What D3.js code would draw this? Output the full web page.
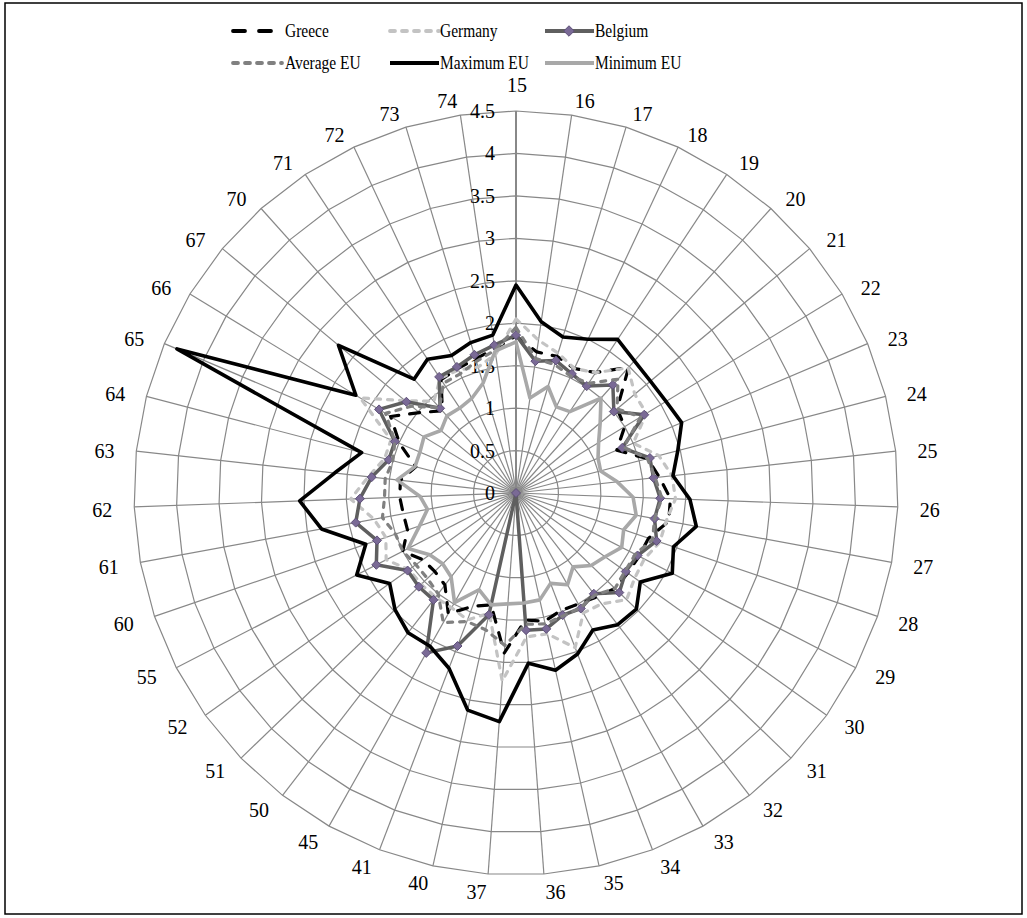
<!DOCTYPE html>
<html lang="en">
<head>
<meta charset="utf-8">
<title>Radar chart</title>
<script src="https://d3js.org/d3.v7.min.js"></script>
<style>
  body { margin: 0; background: #fff; }
  text { font-family: "Liberation Serif", "Times New Roman", serif; fill: #000; }
</style>
</head>
<body>
<script>
// categories round the radar, clockwise from the top
var categories = ["15","16","17","18","19","20","21","22","23","24","25","26","27","28","29",
  "30","31","32","33","34","35","36","37","40","41","45","50","51","52","55","60","61","62",
  "63","64","65","66","67","70","71","72","73","74"];

var greece    = [1.85,1.68,1.68,1.62,1.70,1.99,1.55,1.50,1.29,1.60,1.70,1.82,1.83,1.65,1.63,1.62,1.62,1.55,1.50,1.48,1.55,1.50,1.89,1.35,1.43,1.63,1.37,1.33,1.35,1.50,1.35,1.35,1.37,1.37,1.22,1.49,1.73,1.48,1.30,1.60,1.62,1.65,1.72];
var germany   = [2.05,1.82,1.72,1.62,1.70,1.98,1.82,1.80,1.50,1.74,1.85,1.88,1.80,1.79,1.70,1.72,1.81,1.65,1.62,1.95,1.70,1.70,2.22,1.45,1.60,1.55,1.55,1.55,1.55,1.72,1.62,1.70,1.95,1.75,1.60,1.60,2.15,1.70,1.45,1.62,1.60,1.55,1.65];
var belgium   = [1.86,1.57,1.63,1.55,1.51,1.71,1.50,1.77,1.36,1.63,1.63,1.70,1.66,1.75,1.61,1.59,1.69,1.50,1.56,1.54,1.64,1.62,0,1.47,1.93,2.16,1.59,1.59,1.57,1.85,1.73,1.92,1.84,1.71,1.55,1.55,1.89,1.68,1.34,1.64,1.64,1.70,1.76];
var averageEU = [1.95,1.60,1.58,1.52,1.55,1.80,1.55,1.72,1.38,1.60,1.65,1.72,1.66,1.70,1.58,1.58,1.62,1.52,1.55,1.55,1.58,1.55,1.80,1.65,1.62,1.75,1.50,1.45,1.45,1.50,1.50,1.60,1.55,1.55,1.50,1.55,1.80,1.60,1.35,1.55,1.55,1.62,1.70];
var maximumEU = [2.45,2.04,1.92,2.00,2.17,2.09,2.06,2.07,2.12,1.97,1.86,2.05,2.16,1.96,2.07,1.80,1.97,1.96,1.85,2.03,2.14,2.01,2.70,2.62,2.21,2.07,2.08,1.98,1.83,2.11,1.87,2.33,2.55,2.15,1.88,4.34,2.21,2.72,1.80,1.89,1.79,1.85,1.88];
var minimumEU = [1.78,1.13,1.31,1.12,1.15,1.50,1.29,1.14,1.05,1.03,1.20,1.38,1.44,1.34,1.40,1.29,1.23,1.10,1.24,1.14,1.29,1.30,1.31,1.35,1.22,1.48,1.25,1.20,1.25,1.43,1.20,1.06,1.13,1.41,1.23,1.23,1.27,1.15,1.22,1.20,1.23,1.35,1.69];

var radialTicks = [0,0.5,1,1.5,2,2.5,3,3.5,4,4.5];

var w = 1027, h = 918;
var cx = 516, cy = 493;

var svg = d3.select("body").append("svg")
    .attr("width", w)
    .attr("height", h);

// outer frame
svg.append("rect")
    .attr("x", 5).attr("y", 3)
    .attr("width", 1017).attr("height", 911)
    .attr("fill", "none")
    .attr("stroke", "#000")
    .attr("stroke-width", 1.5);

var r = d3.scaleLinear().domain([0, 4.5]).range([0, 382]);
var angle = d3.scaleLinear().domain([0, categories.length]).range([0, 2 * Math.PI]);

var g = svg.append("g").attr("transform", "translate(" + cx + "," + cy + ")");

// grid rings (polygons like Excel)
var ring = d3.lineRadial()
    .angle(function(d, i) { return angle(i); })
    .radius(function(d) { return r(d); })
    .curve(d3.curveLinearClosed);

radialTicks.slice(1).forEach(function(t) {
  g.append("path")
    .attr("d", ring(categories.map(function() { return t; })))
    .attr("fill", "none")
    .attr("stroke", "#888")
    .attr("stroke-width", 1.2);
});

// spokes
g.selectAll("line.spoke")
  .data(categories)
  .enter().append("line")
    .attr("class", "spoke")
    .attr("x1", 0).attr("y1", 0)
    .attr("x2", function(d, i) { return r(4.5) * Math.sin(angle(i)); })
    .attr("y2", function(d, i) { return -r(4.5) * Math.cos(angle(i)); })
    .attr("stroke", "#888")
    .attr("stroke-width", function(d, i) { return i === 0 ? 2 : 1.2; });

// value labels along the first spoke
g.selectAll("text.tick")
  .data(radialTicks)
  .enter().append("text")
    .attr("class", "tick")
    .attr("x", -21)
    .attr("y", function(d) { return -r(d); })
    .attr("dy", "0.35em")
    .attr("text-anchor", "end")
    .style("font-size", "20px")
    .text(function(d) { return d; });

// category labels, pushed off the spoke ends the way Excel does
g.selectAll("text.cat")
  .data(categories)
  .enter().append("text")
    .attr("class", "cat")
    .attr("x", function(d, i) {
      var s = Math.sin(angle(i));
      return i === 0 ? 1 : 404 * s + (s > 0 ? 10 : -10);
    })
    .attr("y", function(d, i) { return i === 0 ? -408 : -398 * Math.cos(angle(i)) + 2; })
    .attr("dy", "0.35em")
    .attr("text-anchor", "middle")
    .style("font-size", "20px")
    .text(function(d) { return d; });

var series = [
  { name: "Greece",     values: greece,    color: "#000",    width: 3.2, dash: "10,11", cap: "round" },
  { name: "Germany",    values: germany,   color: "#c3c3c3", width: 3.2, dash: "5,7",   cap: "round" },
  { name: "Belgium",    values: belgium,   color: "#5f5f5f", width: 3.5, dash: null,    cap: "butt", marker: true },
  { name: "Average EU", values: averageEU, color: "#808080", width: 3.2, dash: "5,7",   cap: "round" },
  { name: "Maximum EU", values: maximumEU, color: "#000",    width: 3.6, dash: null,    cap: "butt" },
  { name: "Minimum EU", values: minimumEU, color: "#a8a8a8", width: 3.6, dash: null,    cap: "butt" }
];

var diamond = d3.symbol().type(d3.symbolDiamond2).size(52);

series.forEach(function(s) {
  g.append("path")
    .attr("d", ring(s.values))
    .attr("fill", "none")
    .attr("stroke", s.color)
    .attr("stroke-width", s.width)
    .attr("stroke-linejoin", "round")
    .attr("stroke-linecap", s.cap)
    .attr("stroke-dasharray", s.dash);
  if (s.marker) {
    g.selectAll(null)
      .data(s.values)
      .enter().append("path")
        .attr("d", diamond)
        .attr("transform", function(d, i) {
          return "translate(" + (r(d) * Math.sin(angle(i))) + "," + (-r(d) * Math.cos(angle(i))) + ")";
        })
        .attr("fill", "#7a6a96")
        .attr("stroke", "#5e5078")
        .attr("stroke-width", 1);
  }
});

// legend, two rows of three
var legendX = [233, 390, 545];
var legendY = [31, 63];
series.forEach(function(s, i) {
  var lx = legendX[i % 3], ly = legendY[Math.floor(i / 3)];
  var lg = svg.append("g");
  lg.append("line")
    .attr("x1", lx).attr("x2", lx + 49)
    .attr("y1", ly).attr("y2", ly)
    .attr("stroke", s.color)
    .attr("stroke-width", s.width + 0.6)
    .attr("stroke-linecap", s.cap)
    .attr("stroke-dasharray", s.name === "Greece" ? "12,14" : s.dash);
  if (s.marker) {
    lg.append("path")
      .attr("d", d3.symbol().type(d3.symbolDiamond2).size(70))
      .attr("transform", "translate(" + (lx + 24) + "," + ly + ")")
      .attr("fill", "#7a6a96")
      .attr("stroke", "#5e5078");
  }
  var tx = s.name === "Greece" || s.name === "Average EU" ? 285 : lx + 50;
  lg.append("text")
    .attr("transform", "translate(" + tx + "," + ly + ") scale(0.86,1)")
    .attr("dy", "0.35em")
    .style("font-size", "18px")
    .text(s.name);
});
</script>
</body>
</html>
